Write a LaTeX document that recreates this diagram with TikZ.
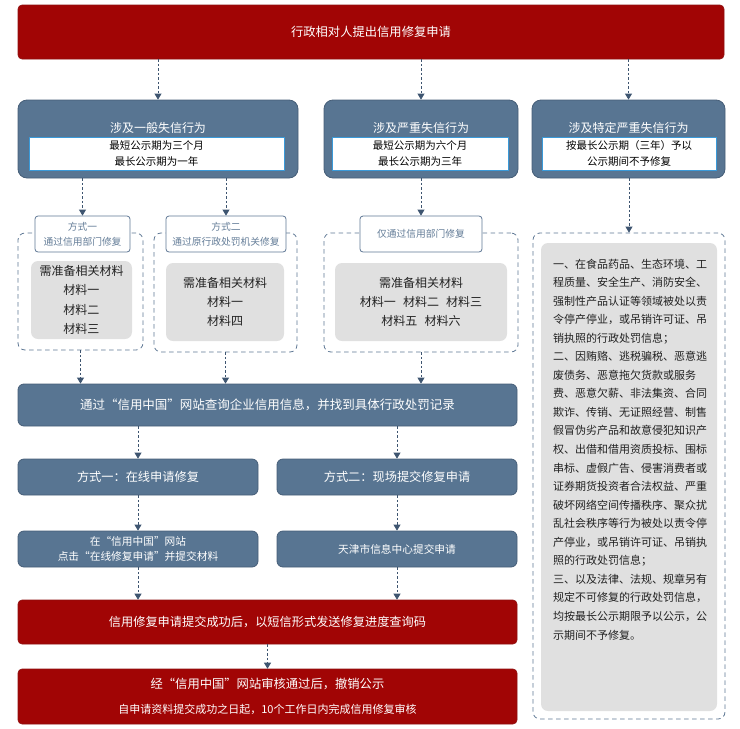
\documentclass[tikz,border=0pt]{standalone}
\usepackage{fontspec}
\setmainfont{Noto Sans CJK SC}
\usetikzlibrary{arrows.meta}
\definecolor{myred}{HTML}{A10505}
\definecolor{myredb}{HTML}{8E1010}
\definecolor{myblue}{HTML}{587592}
\definecolor{mybluebd}{HTML}{465E78}
\definecolor{arrowc}{HTML}{3E5570}
\definecolor{grayc}{HTML}{E0E0E0}
\definecolor{innerbd}{HTML}{3A9AD9}
\definecolor{labelbd}{HTML}{5E7794}
\definecolor{labeltx}{HTML}{647D98}
\definecolor{textc}{HTML}{222222}
\newcommand\myfs[2]{\fontsize{#1}{#2}\selectfont}
\begin{document}
\begin{tikzpicture}[x=1pt,y=-1pt,
  sz/.style 2 args={minimum width=#1pt, minimum height=#2pt},
  arr/.style={draw=arrowc, line width=0.8pt, dash pattern=on 2.5pt off 2pt, -{Triangle[width=7pt,length=6pt]}},
  redbox/.style={fill=myred, draw=myredb, line width=0.6pt, rounded corners=4pt, text=white, align=center, inner sep=0pt},
  bluebig/.style={fill=myblue, draw=mybluebd, line width=0.8pt, rounded corners=9pt, inner sep=0pt},
  bluebox/.style={fill=myblue, draw=mybluebd, line width=0.8pt, rounded corners=7pt, text=white, align=center, inner sep=0pt},
  titletx/.style={text=white, inner sep=0pt, font=\myfs{12}{14}},
  innerbox/.style={fill=white, draw=innerbd, line width=0.9pt, align=center, inner sep=0pt, text=black, font=\myfs{10.5}{15.5}},
  labelbox/.style={fill=white, draw=labelbd, line width=0.8pt, rounded corners=3pt, text=labeltx, align=center, inner sep=0pt, font=\myfs{9.75}{15}},
  container/.style={draw=labelbd, line width=0.8pt, dash pattern=on 4.5pt off 3.5pt, rounded corners=7pt, inner sep=0pt},
  graybox/.style={fill=grayc, rounded corners=7pt, align=center, inner sep=0pt, text=textc, font=\myfs{12}{19.2}}
]
\useasboundingbox (0,0) rectangle (740,729);

% top
\node[redbox, sz={706}{54}, font=\myfs{12.3}{14}] (top) at (371,32) {行政相对人提出信用修复申请};

% row 2
\node[bluebig, sz={280}{78}] (a1) at (158,139) {};
\node[titletx] (a1t) at (158,128) {涉及一般失信行为};
\node[innerbox, sz={255}{33}] (a1i) at (156.5,153.5) {最短公示期为三个月\\最长公示期为一年};

\node[bluebig, sz={194}{78}] (a2) at (421,139) {};
\node[titletx] (a2t) at (421,128) {涉及严重失信行为};
\node[innerbox, sz={176}{33}] (a2i) at (420,153.5) {最短公示期为六个月\\最长公示期为三年};

\node[bluebig, sz={193}{78}] (a3) at (628.5,139) {};
\node[titletx] (a3t) at (628.5,128) {涉及特定严重失信行为};
\node[innerbox, sz={174}{33}] (a3i) at (629,153.5) {按最长公示期（三年）予以\\公示期间不予修复};

\draw[arr] (top.south -| a1.north) -- (a1.north);
\draw[arr] (top.south -| a2.north) -- (a2.north);
\draw[arr] (top.south -| a3.north) -- (a3.north);

% containers
\node[container, sz={125}{117}] (c1) at (80.5,291.5) {};
\node[container, sz={143}{119}] (c2) at (225.5,292.5) {};
\node[container, sz={194}{119}] (c3) at (421,292.5) {};
\node[container, sz={192}{486}] (c4) at (629,476) {};

% label boxes
\node[labelbox, sz={95}{36}] (l1) at (82.5,234) {方式一\\通过信用部门修复};
\node[labelbox, sz={120}{36}] (l2) at (226,234) {方式二\\通过原行政处罚机关修复};
\node[labelbox, sz={122}{36}] (l3) at (421,234) {仅通过信用部门修复};

\draw[arr] (a1.south -| l1.north) -- (l1.north);
\draw[arr] (a1.south -| l2.north) -- (l2.north);
\draw[arr] (a2.south -| l3.north) -- (l3.north);
\draw[arr] (a3.south -| c4.north) -- (c4.north);

% gray boxes
\node[graybox, sz={101}{78}] (g1) at (81.5,300) {需准备相关材料\\材料一\\材料二\\材料三};
\node[graybox, sz={118}{78}] (g2) at (225,302) {需准备相关材料\\材料一\\材料四};
\node[graybox, sz={172}{78}] (g3) at (421,302) {需准备相关材料\\材料一\hspace{0.6em}材料二\hspace{0.6em}材料三\\材料五\hspace{0.6em}材料六};
\node[graybox, sz={176}{468}] (g4) at (629,477) {};
\node[anchor=north west, inner sep=0pt, align=left, text=textc, font=\myfs{11}{18.55}] (g4t) at (553,258.5) {一、在食品药品、生态环境、工\\
程质量、安全生产、消防安全、\\
强制性产品认证等领域被处以责\\
令停产停业，或吊销许可证、吊\\
销执照的行政处罚信息；\\
二、因贿赂、逃税骗税、恶意逃\\
废债务、恶意拖欠货款或服务\\
费、恶意欠薪、非法集资、合同\\
欺诈、传销、无证照经营、制售\\
假冒伪劣产品和故意侵犯知识产\\
权、出借和借用资质投标、围标\\
串标、虚假广告、侵害消费者或\\
证券期货投资者合法权益、严重\\
破坏网络空间传播秩序、聚众扰\\
乱社会秩序等行为被处以责令停\\
产停业，或吊销许可证、吊销执\\
照的行政处罚信息；\\
三、以及法律、法规、规章另有\\
规定不可修复的行政处罚信息，\\
均按最长公示期限予以公示，公\\
示期间不予修复。};

% middle
\node[bluebox, sz={499}{42}, rounded corners=6pt, font=\myfs{12.5}{14}] (m0) at (267.5,405) {通过“信用中国”网站查询企业信用信息，并找到具体行政处罚记录};
\draw[arr] (c1.south) -- (c1.south |- m0.north);
\draw[arr] (c2.south) -- (c2.south |- m0.north);
\draw[arr] (c3.south) -- (c3.south |- m0.north);

\node[bluebox, sz={240}{36}, rounded corners=6pt, font=\myfs{12.2}{14}] (m1) at (138,477) {方式一：在线申请修复};
\node[bluebox, sz={240}{36}, rounded corners=6pt, font=\myfs{12.2}{14}] (m2) at (397,477) {方式二：现场提交修复申请};
\draw[arr] (m0.south -| m1.north) -- (m1.north);
\draw[arr] (m0.south -| m2.north) -- (m2.north);

\node[bluebox, sz={240}{36}, rounded corners=6pt, font=\myfs{10.7}{15}] (m3) at (138,549) {在“信用中国”网站\\点击“在线修复申请”并提交材料};
\node[bluebox, sz={240}{36}, rounded corners=6pt, font=\myfs{10.7}{15}] (m4) at (397,549) {天津市信息中心提交申请};
\draw[arr] (m1.south) -- (m3.north);
\draw[arr] (m2.south) -- (m4.north);

% bottom
\node[redbox, sz={499}{44}, font=\myfs{12.2}{14}] (r1) at (267.5,622) {信用修复申请提交成功后，以短信形式发送修复进度查询码};
\draw[arr] (m3.south) -- (m3.south |- r1.north);
\draw[arr] (m4.south) -- (m4.south |- r1.north);

\node[redbox, sz={499}{55}, font=\myfs{12.3}{25.5}] (r2) at (267.5,696.5) {经“信用中国”网站审核通过后，撤销公示\\{\myfs{11}{25.5}自申请资料提交成功之日起，10个工作日内完成信用修复审核}};
\draw[arr] (r1.south) -- (r2.north);
\end{tikzpicture}
\end{document}
